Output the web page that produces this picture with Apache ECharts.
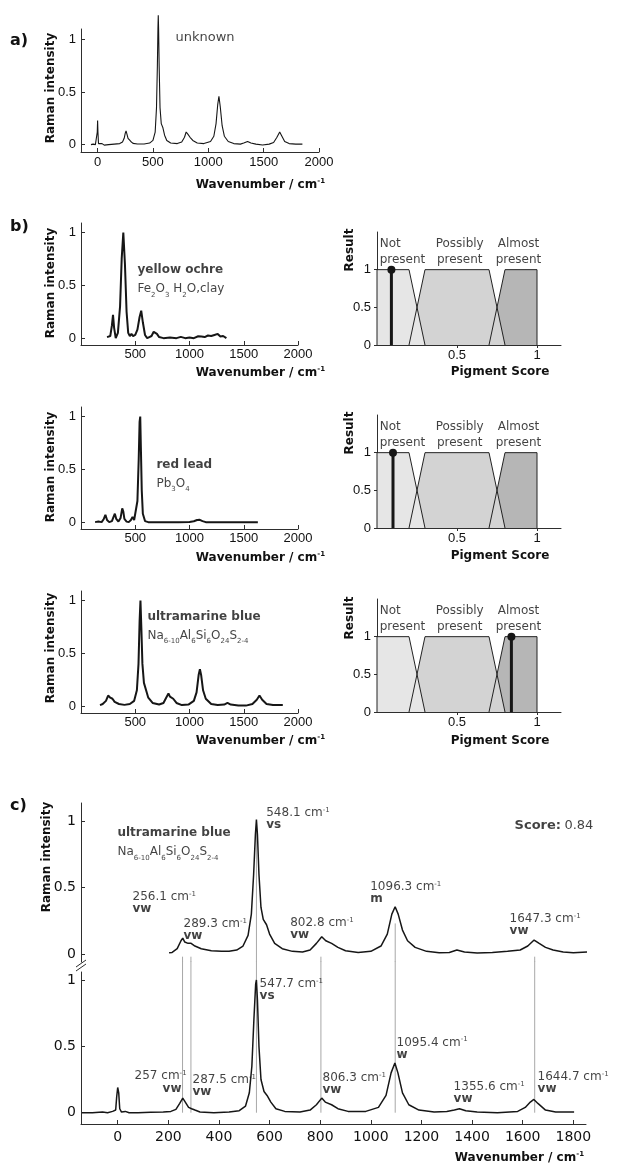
<!DOCTYPE html>
<html>
<head>
<meta charset="utf-8">
<script src="https://cdn.jsdelivr.net/npm/echarts@6/dist/echarts.min.js"></script>
<style>
  html, body { margin: 0; padding: 0; background: #ffffff; }
  #chart { width: 617px; height: 1165px; }
</style>
</head>
<body>
<div id="chart"></div>
<script>
// ---------- spectra: [wavenumber (cm-1), normalised Raman intensity] ----------
const unknownSpectrum = [
  [-60, 0], [-40, 0.005], [-20, 0], [-8, 0.01], [-3, 0.12], [0, 0.23], [3, 0.12], [8, 0.01],
  [20, 0], [40, 0.01], [60, -0.005], [100, 0], [150, 0.005], [200, 0.01], [225, 0.025],
  [240, 0.06], [250, 0.11], [257, 0.13], [265, 0.1], [275, 0.06], [288, 0.05], [300, 0.03],
  [320, 0.012], [360, 0.006], [420, 0.006], [470, 0.015], [500, 0.04], [520, 0.12], [532, 0.35],
  [540, 0.75], [545, 1.1], [548, 1.23], [551, 1.1], [556, 0.75], [564, 0.35], [575, 0.2],
  [590, 0.16], [605, 0.09], [625, 0.04], [660, 0.015], [720, 0.01], [760, 0.025], [785, 0.07],
  [800, 0.12], [806, 0.13], [815, 0.1], [835, 0.07], [860, 0.04], [900, 0.015], [960, 0.01],
  [1020, 0.03], [1050, 0.08], [1070, 0.2], [1085, 0.38], [1096, 0.46], [1108, 0.36], [1125, 0.18],
  [1145, 0.08], [1180, 0.03], [1230, 0.01], [1290, 0.005], [1320, 0.015], [1355, 0.03],
  [1385, 0.015], [1430, 0.005], [1490, -0.003], [1550, 0.005], [1590, 0.02], [1620, 0.07],
  [1645, 0.12], [1665, 0.08], [1690, 0.03], [1730, 0.01], [1790, 0.005], [1850, 0.005]
];

const yellowOchreSpectrum = [
  [240, 0.01], [255, 0], [270, 0.02], [285, 0.12], [295, 0.22], [305, 0.1], [320, 0], [340, 0.05],
  [360, 0.3], [375, 0.75], [390, 1.0], [405, 0.7], [420, 0.25], [435, 0.05], [450, 0.02],
  [465, 0.04], [480, 0.02], [500, 0.03], [520, 0.08], [540, 0.2], [555, 0.26], [570, 0.15],
  [590, 0.03], [610, 0], [630, 0.01], [650, 0.02], [670, 0.06], [685, 0.075], [700, 0.04],
  [720, 0.01], [760, 0], [820, 0.005], [880, 0], [920, 0.012], [960, 0], [1000, 0.005],
  [1040, 0], [1080, 0.018], [1110, 0.015], [1140, 0.01], [1170, 0.025], [1200, 0.02],
  [1230, 0.03], [1260, 0.04], [1285, 0.015], [1310, 0.02], [1340, 0]
];

const redLeadSpectrum = [
  [130, 0], [160, 0.005], [190, 0], [210, 0.03], [225, 0.07], [240, 0.02], [260, 0], [285, 0.01],
  [300, 0.05], [312, 0.08], [325, 0.03], [345, 0.005], [365, 0.04], [380, 0.13], [390, 0.1],
  [400, 0.03], [420, 0.005], [440, 0], [460, 0.02], [475, 0.05], [490, 0.02], [505, 0.03],
  [520, 0.2], [532, 0.6], [540, 0.95], [546, 1.0], [552, 0.7], [560, 0.3], [570, 0.08],
  [590, 0.01], [620, 0], [700, 0], [800, 0], [900, 0], [1000, 0.002], [1040, 0.008],
  [1070, 0.02], [1095, 0.022], [1120, 0.01], [1150, 0], [1250, 0], [1400, 0], [1500, 0], [1630, 0]
];

const ultramarineSpectrum = [
  [175, 0.01], [200, 0.02], [230, 0.05], [250, 0.1], [258, 0.11], [270, 0.08], [290, 0.07],
  [310, 0.04], [350, 0.02], [400, 0.012], [450, 0.02], [490, 0.05], [515, 0.15], [530, 0.4],
  [540, 0.8], [548, 1.0], [556, 0.75], [566, 0.4], [580, 0.22], [600, 0.15], [620, 0.08],
  [660, 0.03], [720, 0.015], [760, 0.03], [785, 0.08], [806, 0.12], [820, 0.09], [850, 0.07],
  [880, 0.03], [930, 0.01], [990, 0.015], [1040, 0.05], [1065, 0.13], [1085, 0.3], [1096, 0.35],
  [1108, 0.29], [1125, 0.15], [1150, 0.07], [1200, 0.02], [1260, 0.01], [1320, 0.015],
  [1350, 0.03], [1380, 0.015], [1450, 0.005], [1520, 0.005], [1580, 0.02], [1620, 0.06],
  [1645, 0.1], [1670, 0.06], [1710, 0.02], [1770, 0.01], [1860, 0.01]
];

const referenceSpectrum = [
  [203, 0.01], [215, 0.012], [235, 0.04], [250, 0.1], [257, 0.12], [265, 0.09], [278, 0.08],
  [290, 0.08], [305, 0.06], [330, 0.04], [370, 0.025], [410, 0.02], [440, 0.02], [470, 0.03],
  [495, 0.06], [515, 0.14], [528, 0.3], [537, 0.6], [544, 0.9], [548, 1.01], [552, 0.9],
  [558, 0.6], [566, 0.35], [575, 0.26], [588, 0.22], [600, 0.15], [620, 0.08], [650, 0.04],
  [690, 0.02], [730, 0.015], [760, 0.03], [785, 0.08], [806, 0.13], [822, 0.1], [845, 0.08],
  [870, 0.05], [900, 0.025], [950, 0.012], [1000, 0.02], [1040, 0.06], [1065, 0.15],
  [1083, 0.3], [1096, 0.355], [1108, 0.3], [1125, 0.18], [1145, 0.1], [1175, 0.05],
  [1220, 0.02], [1270, 0.01], [1310, 0.012], [1340, 0.03], [1370, 0.015], [1420, 0.008],
  [1480, 0.012], [1540, 0.02], [1590, 0.03], [1620, 0.06], [1645, 0.105], [1665, 0.08],
  [1690, 0.05], [1720, 0.03], [1760, 0.015], [1800, 0.01], [1854, 0.015]
];

const sampleSpectrum = [
  [-141, 0], [-100, 0], [-60, 0.005], [-40, 0], [-20, 0.01], [-8, 0.02], [-4, 0.12], [0, 0.19],
  [4, 0.15], [8, 0.03], [15, 0.005], [30, 0.01], [45, 0], [80, 0], [130, 0.003], [180, 0.005],
  [210, 0.01], [230, 0.025], [245, 0.07], [257, 0.11], [267, 0.08], [280, 0.04], [292, 0.03],
  [305, 0.02], [325, 0.005], [380, 0], [440, 0.005], [480, 0.015], [505, 0.05], [520, 0.15],
  [530, 0.35], [538, 0.7], [545, 0.97], [548, 1.0], [552, 0.85], [558, 0.5], [566, 0.25],
  [578, 0.16], [590, 0.13], [605, 0.08], [625, 0.03], [660, 0.01], [720, 0.005], [760, 0.02],
  [785, 0.06], [806, 0.11], [820, 0.08], [845, 0.06], [870, 0.03], [910, 0.01], [980, 0.01],
  [1030, 0.04], [1060, 0.13], [1080, 0.3], [1095, 0.375], [1107, 0.3], [1125, 0.15],
  [1150, 0.06], [1190, 0.02], [1250, 0.005], [1300, 0.01], [1330, 0.02], [1350, 0.03],
  [1375, 0.015], [1420, 0.005], [1500, 0], [1580, 0.01], [1610, 0.04], [1630, 0.08],
  [1644, 0.1], [1660, 0.07], [1690, 0.02], [1730, 0.005], [1803, 0.005]
];

// ---------- fuzzy membership functions of the pigment score ----------
const notPresentMF = [[0, 0], [0, 1], [0.2, 1], [0.3, 0]];
const possiblyPresentMF = [[0.2, 0], [0.3, 1], [0.7, 1], [0.8, 0]];
const almostPresentMF = [[0.7, 0], [0.8, 1], [1, 1], [1, 0]];
const membershipNames = ['Not\npresent', 'Possibly\npresent', 'Almost\npresent'];

// pigment candidates and their scores
const pigmentNames = ['yellow ochre', 'red lead', 'ultramarine blue'];
const pigmentScores = [0.09, 0.10, 0.84];

// ---------- peak assignments ----------
const referencePeaks = [256.1, 289.3, 548.1, 802.8, 1096.3, 1647.3];
const referenceStrength = ['vw', 'vw', 'vs', 'vw', 'm', 'vw'];
const samplePeaks = ['257', '287.5', '547.7', '806.3', '1095.4', '1355.6', '1644.7'];
const sampleStrength = ['vw', 'vw', 'vs', 'vw', 'w', 'vw', 'vw'];

// ---------- tick labels ----------
const ticksA = [0, 500, 1000, 1500, 2000];
const ticksB = [500, 1000, 1500, 2000];
const ticksC = [0, 200, 400, 600, 800, 1000, 1200, 1400, 1600, 1800];
const intensityTicks = [0, 0.5, 1];
const scoreTicks = [0.5, 1];
const resultTicks = [0, 0.5, 1];

// ---------- styling ----------
const FONT = 'DejaVu Sans';
const TICK_FONT = 'Liberation Sans';
const INK = '#161616';
const AXIS = '#2e2e2e';
const TXT = '#111111';
const MF_COLORS = ['#e6e6e6', '#d3d3d3', '#b6b6b6'];

// label anchors (data coordinates of the top-left corner of each text block)
const referenceLabelAt = [[60.4, 0.474], [262, 0.27], [588.7, 1.105], [683.5, 0.278], [999.6, 0.549], [1550, 0.308]];
const sampleLabelAt = [[68.7, 0.322], [297.5, 0.291], [562.6, 1.015], [811, 0.306], [1103.5, 0.574], [1329, 0.238], [1660.6, 0.314]];
// where each gray guide leaves the reference trace
const guideTop = [-0.02, -0.02, 0.93, -0.02, 0.23, -0.02];

const labelRich = {
  n: { fontFamily: FONT, fontSize: 12, color: TXT, lineHeight: 13 },
  p: { fontFamily: FONT, fontSize: 7, color: TXT, lineHeight: 8, verticalAlign: 'top' },
  b: { fontFamily: FONT, fontSize: 12, fontWeight: 'bold', color: TXT, lineHeight: 11 },
  t: { fontFamily: FONT, fontSize: 12, fontWeight: 'bold', color: TXT, lineHeight: 19 },
  f: { fontFamily: FONT, fontSize: 12, color: TXT, lineHeight: 19 },
  s: { fontFamily: FONT, fontSize: 7, color: TXT, lineHeight: 12, verticalAlign: 'bottom' },
  u: { fontFamily: FONT, fontSize: 13, color: TXT, lineHeight: 16 },
  sb: { fontFamily: FONT, fontSize: 13, fontWeight: 'bold', color: TXT, lineHeight: 16 },
  m: { fontFamily: FONT, fontSize: 12, color: TXT, lineHeight: 16 },
  gap: { width: 28 }
};

const formulas = [
  '{f|Fe}{s|2}{f|O}{s|3}{f| H}{s|2}{f|O,clay}',
  '{f|Pb}{s|3}{f|O}{s|4}',
  '{f|Na}{s|6-10}{f|Al}{s|6}{f|Si}{s|6}{f|O}{s|24}{f|S}{s|2-4}'
];

// ---------- layout ----------
const grids = [
  { left: 81, top: 29, width: 238, height: 123 },   // 0 a) unknown
  { left: 81, top: 223, width: 217, height: 122 },  // 1 b) spectrum 1
  { left: 377, top: 232, width: 184, height: 113 }, // 2 b) score 1
  { left: 81, top: 407, width: 217, height: 122 },  // 3 b) spectrum 2
  { left: 377, top: 415, width: 184, height: 113 }, // 4 b) score 2
  { left: 81, top: 591, width: 217, height: 122 },  // 5 b) spectrum 3
  { left: 377, top: 599, width: 184, height: 113 }, // 6 b) score 3
  { left: 81, top: 803, width: 505, height: 159 },  // 7 c) reference
  { left: 81, top: 972, width: 505, height: 152 }   // 8 c) sample
];

function axis(gridIndex, min, max, ticks, o) {
  o = o || {};
  return {
    gridIndex, type: 'value', min, max, show: o.show !== false,
    axisLine: { show: true, onZero: false, lineStyle: { color: AXIS, width: 1 } },
    axisTick: { show: true, inside: o.inside !== false, length: o.tickLen || 4,
      customValues: ticks, lineStyle: { color: AXIS } },
    axisLabel: { customValues: ticks, margin: o.margin != null ? o.margin : 5, color: TXT,
      fontFamily: o.font || TICK_FONT, fontSize: o.fontSize || 13, formatter: v => String(v) },
    splitLine: { show: false }
  };
}

const xAxes = [
  axis(0, -150, 2000, ticksA, { margin: 4 }),
  axis(1, 0, 2000, ticksB, { margin: 3 }),
  axis(2, 0, 1.15, scoreTicks, { margin: 4, inside: false, tickLen: 3 }),
  axis(3, 0, 2000, ticksB, { margin: 3 }),
  axis(4, 0, 1.15, scoreTicks, { margin: 4, inside: false, tickLen: 3 }),
  axis(5, 0, 2000, ticksB, { margin: 3 }),
  axis(6, 0, 1.15, scoreTicks, { margin: 4, inside: false, tickLen: 3 }),
  axis(7, -145, 1850, ticksC, { show: false }),
  axis(8, -145, 1850, ticksC, { margin: 6, font: FONT, fontSize: 14 })
];
const yAxes = [
  axis(0, -0.07, 1.1, intensityTicks),
  axis(1, -0.065, 1.09, intensityTicks),
  axis(2, 0, 1.5, resultTicks, { margin: 6, inside: false, tickLen: 3 }),
  axis(3, -0.065, 1.09, intensityTicks),
  axis(4, 0, 1.5, resultTicks, { margin: 6, inside: false, tickLen: 3 }),
  axis(5, -0.065, 1.09, intensityTicks),
  axis(6, 0, 1.5, resultTicks, { margin: 6, inside: false, tickLen: 3 }),
  axis(7, -0.06, 1.135, intensityTicks, { margin: 5, font: FONT, fontSize: 14 }),
  axis(8, -0.085, 1.06, intensityTicks, { margin: 5, font: FONT, fontSize: 14 })
];

const series = [];

function spectrum(idx, data, width) {
  series.push({
    type: 'line', xAxisIndex: idx, yAxisIndex: idx, data, symbol: 'none', clip: false,
    lineStyle: { color: INK, width }, z: 3, silent: true
  });
}
function text(idx, coord, formatter, align) {
  series.push({
    type: 'scatter', xAxisIndex: idx, yAxisIndex: idx, symbol: 'circle', symbolSize: 1,
    clip: false, silent: true, z: 6,
    itemStyle: { color: 'rgba(0,0,0,0)' },
    data: [{ value: coord }],
    label: { show: true, position: [0, 0], align: align || 'left', verticalAlign: 'top',
      formatter, rich: labelRich }
  });
}

// a) unknown spectrum
spectrum(0, unknownSpectrum, 1.1);
text(0, [708, 1.09], '{u|unknown}');

// b) candidate spectra and their fuzzy scores
const candidateSpectra = [yellowOchreSpectrum, redLeadSpectrum, ultramarineSpectrum];
const nameAt = [[525, 0.732], [700, 0.632], [617, 0.934]];
const mfs = [notPresentMF, possiblyPresentMF, almostPresentMF];
candidateSpectra.forEach((spec, i) => {
  const li = 1 + i * 2, ri = 2 + i * 2;
  spectrum(li, spec, 2);
  text(li, nameAt[i], '{t|' + pigmentNames[i] + '}\n' + formulas[i]);

  // filled membership areas, drawn back to front
  [2, 1, 0].forEach(k => series.push({
    type: 'line', xAxisIndex: ri, yAxisIndex: ri, data: mfs[k], symbol: 'none', silent: true,
    lineStyle: { width: 0, opacity: 0 }, areaStyle: { color: MF_COLORS[k], opacity: 1 }, z: 1
  }));
  // outlines on top
  [0, 1, 2].forEach(k => series.push({
    type: 'line', xAxisIndex: ri, yAxisIndex: ri, data: mfs[k], symbol: 'none', silent: true,
    lineStyle: { color: '#222222', width: 1 }, z: 2
  }));
  // score marker
  const s = pigmentScores[i];
  series.push({
    type: 'line', xAxisIndex: ri, yAxisIndex: ri, silent: true, z: 4, clip: false,
    data: [{ value: [s, 0], symbol: 'none' }, { value: [s, 1], symbol: 'circle', symbolSize: 8 }],
    lineStyle: { color: INK, width: 3 }, itemStyle: { color: INK }
  });
  text(ri, [0.02, 1.44], '{m|' + membershipNames[0].replace('\n', '}\n{m|') + '}', 'left');
  text(ri, [0.52, 1.44], '{m|' + membershipNames[1].replace('\n', '}\n{m|') + '}', 'center');
  text(ri, [0.8875, 1.44], '{m|' + membershipNames[2].replace('\n', '}\n{m|') + '}', 'center');
});

// c) reference vs sample with peak assignments
spectrum(7, referenceSpectrum, 1.5);
spectrum(8, sampleSpectrum, 1.5);
referencePeaks.forEach((p, i) => {
  series.push({
    type: 'line', xAxisIndex: 7, yAxisIndex: 7, data: [[p, guideTop[i]], [p, -0.06]],
    symbol: 'none', clip: false, silent: true, lineStyle: { color: '#a8a8a8', width: 1 }, z: 1
  });
  series.push({
    type: 'line', xAxisIndex: 8, yAxisIndex: 8, data: [[p, 0], [p, 1.14]],
    symbol: 'none', clip: false, silent: true, lineStyle: { color: '#a8a8a8', width: 1 }, z: 1
  });
  text(7, referenceLabelAt[i], '{n|' + p.toFixed(1) + ' cm}{p|-1}\n{b|' + referenceStrength[i] + '}');
});
samplePeaks.forEach((p, i) => {
  const pad = i === 0 ? '{gap|}' : '';
  text(8, sampleLabelAt[i], '{n|' + p + ' cm}{p|-1}\n' + pad + '{b|' + sampleStrength[i] + '}');
});
text(7, [1, 0.977], '{t|' + pigmentNames[2] + '}\n' + formulas[2]);
text(7, [1570, 1.02], '{sb|Score:} {u|' + pigmentScores[2].toFixed(2) + '}');

// ---------- axis titles and panel letters ----------
const boldFont = 'bold 12px "DejaVu Sans"';
function gText(x, y, str, opt) {
  opt = opt || {};
  return {
    type: 'text', x, y, rotation: opt.rot || 0, silent: true,
    style: { text: str, font: opt.font || boldFont, fill: TXT,
      align: opt.align || 'center', verticalAlign: 'middle', rich: opt.rich }
  };
}
const waveRich = {
  w: { font: boldFont, fill: TXT, lineHeight: 14 },
  e: { font: 'bold 7px "DejaVu Sans"', fill: TXT, lineHeight: 8, verticalAlign: 'top' }
};
const waveLabel = '{w|Wavenumber / cm}{e|-1}';
const graphic = [
  gText(10, 41, 'a)', { font: 'bold 16px "DejaVu Sans"', align: 'left' }),
  gText(10, 227, 'b)', { font: 'bold 16px "DejaVu Sans"', align: 'left' }),
  gText(10, 806, 'c)', { font: 'bold 16px "DejaVu Sans"', align: 'left' }),
  gText(51, 88, 'Raman intensity', { rot: Math.PI / 2 }),
  gText(51, 283, 'Raman intensity', { rot: Math.PI / 2 }),
  gText(51, 467, 'Raman intensity', { rot: Math.PI / 2 }),
  gText(51, 648, 'Raman intensity', { rot: Math.PI / 2 }),
  gText(47, 857, 'Raman intensity', { rot: Math.PI / 2 }),
  gText(350, 250, 'Result', { rot: Math.PI / 2 }),
  gText(350, 433, 'Result', { rot: Math.PI / 2 }),
  gText(350, 618, 'Result', { rot: Math.PI / 2 }),
  gText(500, 372, 'Pigment Score'),
  gText(500, 556, 'Pigment Score'),
  gText(500, 741, 'Pigment Score'),
  gText(325, 185, waveLabel, { align: 'right', rich: waveRich }),
  gText(325, 373, waveLabel, { align: 'right', rich: waveRich }),
  gText(325, 558, waveLabel, { align: 'right', rich: waveRich }),
  gText(325, 741, waveLabel, { align: 'right', rich: waveRich }),
  gText(584, 1158, waveLabel, { align: 'right', rich: waveRich }),
  // axis break on the shared intensity axis
  { type: 'line', silent: true, shape: { x1: 76, y1: 967, x2: 86, y2: 960 }, style: { stroke: AXIS, lineWidth: 1 } },
  { type: 'line', silent: true, shape: { x1: 76, y1: 971, x2: 86, y2: 964 }, style: { stroke: AXIS, lineWidth: 1 } }
];

const chart = echarts.init(document.getElementById('chart'), null, { renderer: 'canvas' });
chart.setOption({
  animation: false,
  backgroundColor: '#ffffff',
  grid: grids,
  xAxis: xAxes,
  yAxis: yAxes,
  series,
  graphic
});
</script>
</body>
</html>
